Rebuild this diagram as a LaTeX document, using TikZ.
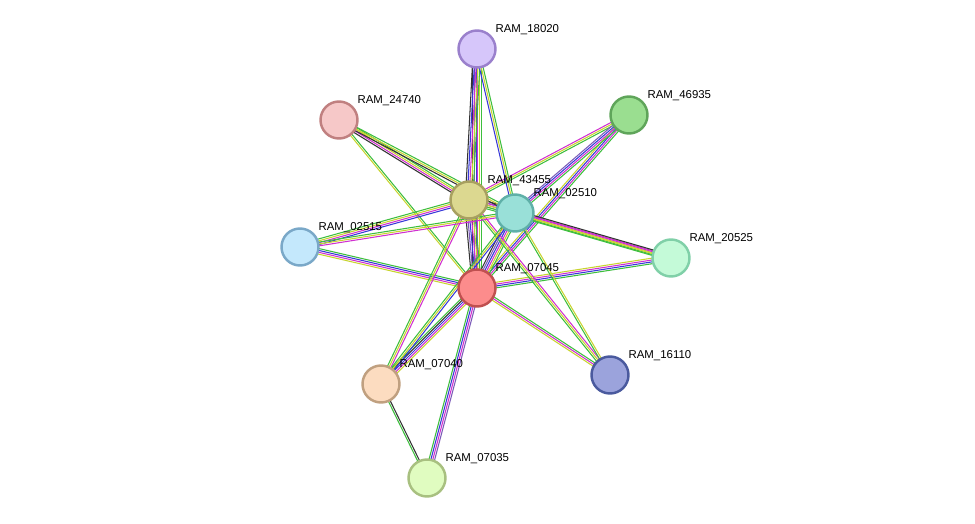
\documentclass[tikz,border=0pt]{standalone}
\usepackage{fontspec}
\setmainfont{Liberation Sans}
\usetikzlibrary{calc}
\definecolor{cgreen}{HTML}{3DBE3D}
\definecolor{cyel}{HTML}{C8D42F}
\definecolor{cmag}{HTML}{D030D0}
\definecolor{cblue}{HTML}{3838D8}
\definecolor{cpurp}{HTML}{7B5BB8}
\definecolor{cblack}{HTML}{333333}
% protein colours: border, fill
\definecolor{b18020}{HTML}{9A80CC}\definecolor{f18020}{HTML}{D6C6FA}
\definecolor{b24740}{HTML}{C08080}\definecolor{f24740}{HTML}{F6C8C8}
\definecolor{b46935}{HTML}{5FA55A}\definecolor{f46935}{HTML}{9ADE90}
\definecolor{b43455}{HTML}{A8A060}\definecolor{f43455}{HTML}{DCD890}
\definecolor{b02510}{HTML}{5FB0A8}\definecolor{f02510}{HTML}{99E0D8}
\definecolor{b02515}{HTML}{7AA8C8}\definecolor{f02515}{HTML}{C4E8FC}
\definecolor{b20525}{HTML}{80D0A8}\definecolor{f20525}{HTML}{C4FAD8}
\definecolor{b07045}{HTML}{C05050}\definecolor{f07045}{HTML}{FC8C8C}
\definecolor{b07040}{HTML}{C0A080}\definecolor{f07040}{HTML}{FCDCC0}
\definecolor{b16110}{HTML}{4A5A9E}\definecolor{f16110}{HTML}{9BA3DC}
\definecolor{b07035}{HTML}{A8C080}\definecolor{f07035}{HTML}{E0FCC0}
\tikzset{
    prot/.style={circle, draw, line width=1.4pt, minimum size=0.74cm, inner sep=0pt},
    plabel/.style={font=\fontsize{6.5}{7}\selectfont, anchor=south west, inner sep=1pt},
    link/.style={line width=0.6pt}
}
% edge made of parallel coloured lines: from, to, number of lines, colours
\newcommand\edgelink[4]{%
    \foreach \c [count=\i] in {#4} {%
        \pgfmathsetmacro\o{(\i-(#3+1)/2)*1.05}
        \draw[link,\c] ($(#1)!\o pt!90:(#2)$) -- ($(#2)!\o pt!-90:(#1)$);
    }}
\begin{document}
\begin{tikzpicture}[x=0.02cm,y=-0.02cm]
    \useasboundingbox (0,0) rectangle (975,524);
    % positions
    \coordinate (p18020) at (477,49);
    \coordinate (p24740) at (339,120);
    \coordinate (p46935) at (629,115);
    \coordinate (p43455) at (469,200);
    \coordinate (p02510) at (515,213);
    \coordinate (p02515) at (300,247);
    \coordinate (p20525) at (671,258);
    \coordinate (p07045) at (477,288);
    \coordinate (p07040) at (381,384);
    \coordinate (p16110) at (610,375);
    \coordinate (p07035) at (427,478);

    % links
    \edgelink{p07045}{p18020}{6}{cgreen,cyel,cmag,cblue,cpurp,cblack}
    \edgelink{p07045}{p24740}{2}{cgreen,cyel}
    \edgelink{p07045}{p46935}{4}{cgreen,cmag,cblue,cyel}
    \edgelink{p07045}{p43455}{6}{cgreen,cyel,cmag,cblue,cpurp,cblack}
    \edgelink{p07045}{p02510}{6}{cgreen,cyel,cmag,cblue,cpurp,cblack}
    \edgelink{p07045}{p02515}{4}{cgreen,cblue,cmag,cyel}
    \edgelink{p07045}{p20525}{4}{cgreen,cblue,cmag,cyel}
    \edgelink{p07045}{p07040}{5}{cgreen,cblack,cblue,cmag,cyel}
    \edgelink{p07045}{p16110}{3}{cyel,cmag,cgreen}
    \edgelink{p07045}{p07035}{4}{cgreen,cblue,cmag,cpurp}
    \edgelink{p43455}{p18020}{5}{cgreen,cyel,cmag,cblue,cblack}
    \edgelink{p43455}{p24740}{4}{cgreen,cyel,cmag,cblack}
    \edgelink{p43455}{p46935}{3}{cgreen,cyel,cmag}
    \edgelink{p43455}{p02510}{5}{cgreen,cyel,cmag,cblue,cblack}
    \edgelink{p43455}{p02515}{4}{cgreen,cyel,cmag,cblue}
    \edgelink{p43455}{p20525}{3}{cgreen,cyel,cmag}
    \edgelink{p43455}{p07040}{3}{cgreen,cyel,cmag}
    \edgelink{p43455}{p16110}{3}{cgreen,cyel,cmag}
    \edgelink{p02510}{p18020}{3}{cgreen,cyel,cblue}
    \edgelink{p02510}{p24740}{3}{cgreen,cyel,cblack}
    \edgelink{p02510}{p46935}{4}{cgreen,cmag,cblue,cpurp}
    \edgelink{p02510}{p02515}{3}{cgreen,cyel,cmag}
    \edgelink{p02510}{p20525}{4}{cgreen,cyel,cmag,cblack}
    \edgelink{p02510}{p07040}{3}{cgreen,cyel,cblue}
    \edgelink{p02510}{p16110}{2}{cgreen,cyel}
    \edgelink{p07040}{p07035}{2}{cgreen,cblack}

    % proteins and labels
    \foreach \n in {18020,24740,46935,43455,02510,02515,20525,07045,07040,16110,07035} {
        \node[prot, draw=b\n, fill=f\n] (n\n) at (p\n) {};
        \node[plabel] (l\n) at ([xshift=0.33cm,yshift=0.24cm]n\n.center) {RAM\_\n};
    }
\end{tikzpicture}
\end{document}
